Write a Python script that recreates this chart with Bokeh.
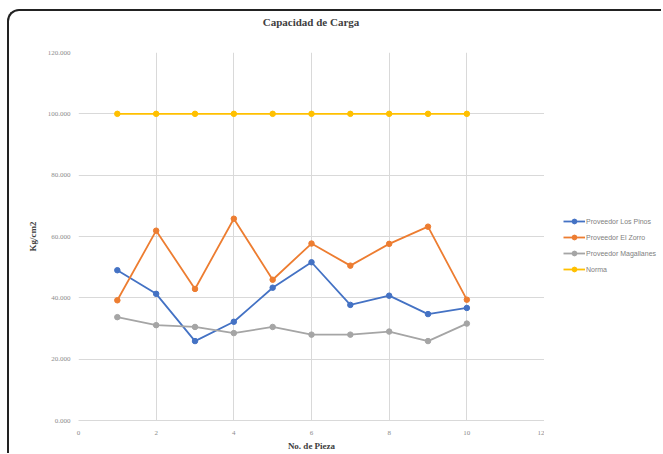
from bokeh.plotting import figure
from bokeh.embed import file_html
from bokeh.resources import INLINE
from bokeh.layouts import row, column
from bokeh.models import (Range1d, FixedTicker, NumeralTickFormatter, Legend, LegendItem, Div)

piezas = [1, 2, 3, 4, 5, 6, 7, 8, 9, 10]
los_pinos = [49.0, 41.3, 25.9, 32.2, 43.3, 51.6, 37.7, 40.7, 34.7, 36.7]
el_zorro = [39.2, 61.9, 42.9, 65.8, 45.9, 57.7, 50.5, 57.6, 63.2, 39.4]
magallanes = [33.7, 31.1, 30.5, 28.5, 30.5, 28.0, 28.0, 29.0, 25.9, 31.6]
norma = [100, 100, 100, 100, 100, 100, 100, 100, 100, 100]
series_names = ["Proveedor Los Pinos", "Proveedor El Zorro", "Proveedor Magallanes", "Norma"]
chart_title = "Capacidad de Carga"
x_ticks = [0, 2, 4, 6, 8, 10, 12]
y_ticks = [0, 20, 40, 60, 80, 100, 120]

colors = ["#4472C4", "#ED7D31", "#A5A5A5", "#FFC000"]
all_series = [los_pinos, el_zorro, magallanes, norma]

H = 420
p = figure(width=535, height=H, output_backend="svg", toolbar_location=None,
           x_range=Range1d(0, 12), y_range=Range1d(0, 120),
           min_border_left=69, min_border_right=0, min_border_top=19, min_border_bottom=29)

p.outline_line_color = None
p.xgrid.ticker = FixedTicker(ticks=x_ticks)
p.ygrid.ticker = FixedTicker(ticks=y_ticks)
p.xgrid.grid_line_color = "#D9D9D9"
p.ygrid.grid_line_color = "#D9D9D9"

p.xaxis.ticker = FixedTicker(ticks=x_ticks)
p.yaxis.ticker = FixedTicker(ticks=y_ticks)
p.yaxis.formatter = NumeralTickFormatter(format="0.000")
for ax in (p.xaxis, p.yaxis):
    ax.major_tick_line_color = None
    ax.minor_tick_line_color = None
    ax.major_tick_out = 0
    ax.major_tick_in = 0
    ax.major_label_text_font = "Liberation Serif"
    ax.major_label_text_font_size = "7px"
    ax.major_label_text_color = "#8C8C8C"
    ax.axis_label_text_font = "Liberation Serif"
    ax.axis_label_text_font_size = "9px"
    ax.axis_label_text_font_style = "bold"
    ax.axis_label_text_color = "#404040"
p.xaxis.axis_line_color = "#D9D9D9"
p.yaxis.axis_line_color = None
p.xaxis.major_label_standoff = 10
p.xaxis.axis_label_standoff = 3
p.yaxis.major_label_standoff = 8
p.yaxis.axis_label_standoff = 7
p.xaxis.axis_label = "No. de Pieza"
p.yaxis.axis_label = "Kg/cm2"

for vals, c in zip(all_series, colors):
    p.line(piezas, vals, line_color=c, line_width=1.8)
    p.scatter(piezas, vals, size=5.5, color=c)

# legend panel: a second figure holding only the legend (its own copies of the
# series sit outside its visible range)
q = figure(width=117, height=H, output_backend="svg", toolbar_location=None,
           x_range=Range1d(-20, -19), y_range=Range1d(0, 120),
           x_axis_type=None, y_axis_type=None,
           min_border_left=0, min_border_right=0, min_border_top=0, min_border_bottom=0)
q.outline_line_color = None
q.xgrid.visible = False
q.ygrid.visible = False
items = []
for name, vals, c in zip(series_names, all_series, colors):
    l = q.line(piezas, vals, line_color=c, line_width=1.8)
    s = q.scatter(piezas, vals, size=5.5, color=c)
    items.append(LegendItem(label=name, renderers=[l, s]))
legend = Legend(items=items, location=(19, 145), background_fill_alpha=0,
                border_line_color=None, label_text_font="Liberation Sans",
                label_text_font_size="7px", label_text_color="#808080",
                glyph_width=22, glyph_height=12, spacing=4, label_standoff=1,
                padding=2, margin=0)
q.add_layout(legend, "center")

title_div = Div(text=chart_title, width=604, height=22, margin=0,
                styles={"font-family": "Liberation Serif", "font-size": "11px",
                        "font-weight": "bold", "color": "#404040",
                        "text-align": "center", "line-height": "22px"})

layout = column(title_div, row(p, q, spacing=0), spacing=0)
layout.styles = {"border-left": "2px solid #222", "border-top": "2px solid #222",
                 "border-top-left-radius": "12px", "margin-left": "7px", "margin-top": "9px"}

open("out.html", "w").write(file_html(layout, INLINE))
